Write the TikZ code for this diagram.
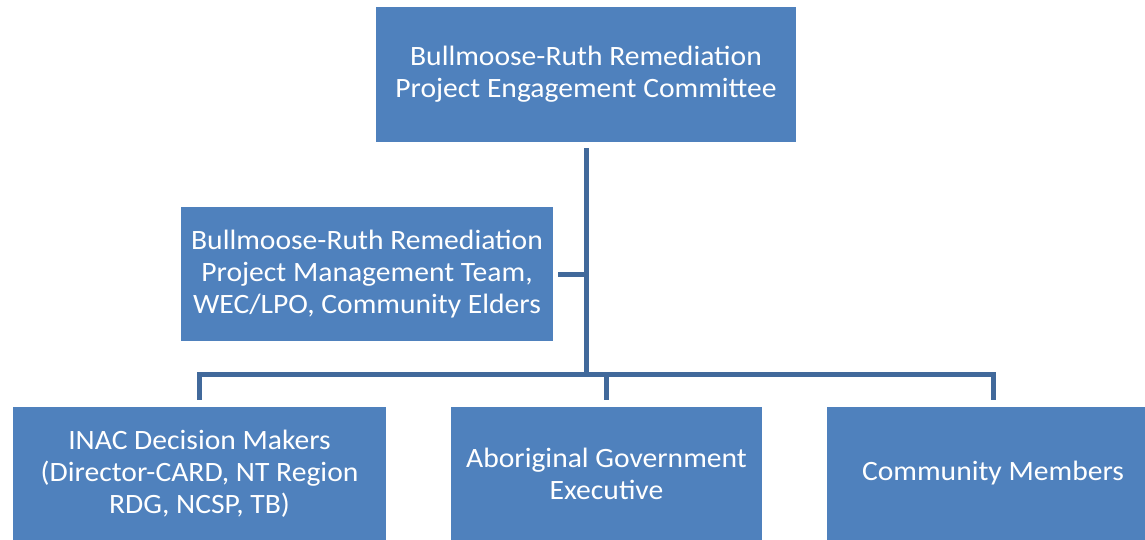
\documentclass[tikz,border=0pt]{standalone}
\usepackage{fontspec}
\setmainfont{Carlito}[FakeStretch=1.057]
\definecolor{boxblue}{HTML}{4F81BD}
\definecolor{lineblue}{HTML}{41699B}
\begin{document}
\begin{tikzpicture}[x=1pt,y=-1pt,
  orgbox/.style={fill=boxblue,draw=none,rectangle,text=white,align=center,inner sep=0pt,
    font=\fontsize{28pt}{32pt}\selectfont},
  conn/.style={draw=lineblue,line width=5pt,line join=miter}]
\useasboundingbox (0,0) rectangle (1145,540);
\clip (0,0) rectangle (1145,540);
\node[orgbox,minimum width=420pt,minimum height=135pt] (top) at (586,74.5)
  {Bullmoose-Ruth Remediation\\Project Engagement Committee};
\node[orgbox,minimum width=372pt,minimum height=134pt] (mid) at (367,274)
  {Bullmoose-Ruth Remediation\\Project Management Team,\\WEC/LPO, Community Elders};
\node[orgbox,minimum width=373pt,minimum height=133pt] (inac) at (199.5,473.5)
  {INAC Decision Makers\\(Director-CARD, NT Region\\RDG, NCSP, TB)};
\node[orgbox,minimum width=311pt,minimum height=133pt] (abo) at (606.5,473.5)
  {Aboriginal Government\\Executive};
\node[orgbox,minimum width=332pt,minimum height=133pt] (cm) at (993,473.5)
  {Community Members};
\coordinate (bus) at (586,374);
\draw[conn] ([yshift=-6pt]top.south) -- (bus);
\draw[conn] ([xshift=5pt]mid.east) -- (mid.east -| bus);
\draw[conn] ([yshift=7pt]inac.north) |- (bus) -| ([yshift=7pt]cm.north);
\draw[conn] ([yshift=7pt]abo.north) -- (abo.north |- bus);
\end{tikzpicture}
\end{document}
